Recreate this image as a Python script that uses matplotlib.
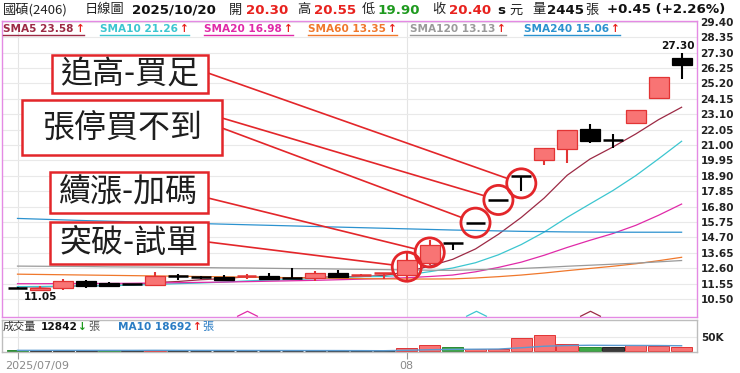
import numpy as np
import matplotlib
matplotlib.use('Agg')
import matplotlib.pyplot as plt
from matplotlib.patches import Rectangle
from matplotlib.path import Path
from matplotlib.lines import Line2D
from matplotlib.transforms import blended_transform_factory

# ---------------- data ----------------
opens  = [11.28, 11.10, 11.24, 11.73, 11.58, 11.50, 11.46, 12.08, 12.03, 12.03,
          12.06, 12.10, 11.92, 11.92, 12.26, 12.12, 12.22, 12.13, 12.98, 14.30,
          15.71, 17.26, 18.91, 19.98, 20.71, 22.08, 21.34, 22.49, 24.19, 26.92]
highs  = [11.34, 11.42, 11.87, 11.80, 11.65, 11.53, 12.33, 12.19, 12.10, 12.14,
          12.22, 12.26, 12.60, 12.44, 12.49, 12.22, 12.30, 13.62, 14.53, 14.30,
          15.71, 17.26, 18.91, 20.78, 22.03, 22.42, 21.75, 23.39, 25.66, 27.30]
lows   = [11.24, 11.05, 11.10, 11.28, 11.30, 11.46, 11.46, 11.80, 11.85, 11.73,
          11.85, 11.85, 11.92, 11.75, 11.99, 12.05, 11.85, 11.80, 12.83, 13.85,
          15.71, 17.26, 17.87, 19.64, 19.76, 21.12, 20.78, 22.49, 24.19, 25.49]
closes = [11.28, 11.28, 11.73, 11.41, 11.40, 11.50, 12.10, 12.08, 12.03, 11.80,
          12.08, 11.87, 11.92, 12.26, 11.99, 12.14, 12.26, 13.16, 14.18, 14.30,
          15.71, 17.26, 18.91, 20.78, 22.03, 21.28, 21.34, 23.39, 25.66, 26.46]

sma5   = [11.35, 11.32, 11.38, 11.40, 11.42, 11.46, 11.63, 11.70, 11.82, 11.90,
          12.02, 11.97, 11.94, 11.99, 12.02, 12.04, 12.11, 12.36, 12.75, 13.21,
          13.92, 14.92, 16.07, 17.39, 18.94, 20.05, 20.87, 21.76, 22.74, 23.58]
sma10  = [11.35, 11.36, 11.38, 11.40, 11.42, 11.45, 11.50, 11.55, 11.60, 11.66,
          11.74, 11.80, 11.82, 11.90, 11.96, 12.03, 12.04, 12.15, 12.37, 12.62,
          12.98, 13.52, 14.22, 15.07, 16.07, 16.99, 17.90, 18.92, 20.07, 21.26]
sma20  = [11.55, 11.55, 11.56, 11.56, 11.57, 11.58, 11.60, 11.62, 11.64, 11.66,
          11.69, 11.72, 11.75, 11.78, 11.82, 11.86, 11.90, 11.96, 12.04, 12.14,
          12.36, 12.66, 13.02, 13.49, 14.02, 14.51, 14.97, 15.53, 16.22, 16.98]
sma60  = [12.20, 12.18, 12.16, 12.14, 12.12, 12.10, 12.08, 12.06, 12.04, 12.02,
          12.00, 11.98, 11.96, 11.94, 11.92, 11.90, 11.88, 11.87, 11.87, 11.88,
          11.94, 12.03, 12.14, 12.28, 12.44, 12.59, 12.74, 12.91, 13.12, 13.35]
sma120 = [12.75, 12.74, 12.73, 12.72, 12.70, 12.69, 12.68, 12.66, 12.65, 12.63,
          12.62, 12.60, 12.58, 12.57, 12.55, 12.53, 12.51, 12.49, 12.47, 12.46,
          12.50, 12.54, 12.59, 12.66, 12.74, 12.81, 12.88, 12.95, 13.04, 13.13]
sma240 = [16.00, 15.95, 15.90, 15.85, 15.81, 15.77, 15.73, 15.69, 15.65, 15.61,
          15.57, 15.53, 15.49, 15.45, 15.41, 15.37, 15.33, 15.29, 15.25, 15.21,
          15.18, 15.15, 15.12, 15.10, 15.08, 15.07, 15.06, 15.06, 15.06, 15.06]

volume   = [2500, 2000, 2200, 2000, 2300, 2000, 5000, 800, 800, 800,
            800, 800, 800, 800, 800, 800, 800, 12000, 22000, 14000,
            6000, 7000, 47000, 58000, 25000, 15000, 13000, 20000, 19000, 12842]
vol_dir  = ['down', 'flat', 'flat', 'flat', 'down', 'flat', 'up', 'flat', 'flat', 'flat',
            'flat', 'flat', 'flat', 'flat', 'flat', 'flat', 'flat', 'up', 'up', 'down',
            'up', 'up', 'up', 'up', 'up', 'down', 'flat', 'up', 'up', 'up']
vol_ma10 = [2300, 2300, 2300, 2250, 2250, 2200, 2400, 2200, 2100, 2000,
            1900, 1800, 1700, 1600, 1500, 1300, 1000, 2500, 4500, 5800,
            6300, 6900, 11500, 17000, 19500, 20500, 20000, 19800, 19500, 18692]

price_ticks = ['10.50', '11.55', '12.60', '13.65', '14.70', '15.75', '16.80', '17.85',
               '18.90', '19.95', '21.00', '22.05', '23.10', '24.15', '25.20', '26.25',
               '27.30', '28.35', '29.40']
date_ticks = [0, 17]
date_labels = ['2025/07/09', '08']

ma_names  = ['SMA5', 'SMA10', 'SMA20', 'SMA60', 'SMA120', 'SMA240']
ma_last   = ['23.58', '21.26', '16.98', '13.35', '13.13', '15.06']
ma_series = [sma5, sma10, sma20, sma60, sma120, sma240]

signals = [(10, 'SMA20'), (20, 'SMA10'), (25, 'SMA5')]

notes = ['追高-買足', '張停買不到', '續漲-加碼', '突破-試單']
note_targets = [[22], [21, 20], [18], [17]]

# ---------------- style ----------------
W, H = 740, 373
CJK = ['Noto Sans CJK TC', 'DejaVu Sans']
RED = '#e8221e'
GREEN = '#1f9a1f'
MA_COLORS = {'SMA5': '#9c2a45', 'SMA10': '#3cc6d0', 'SMA20': '#e02aa8',
             'SMA60': '#f0782c', 'SMA120': '#9a9a9a', 'SMA240': '#2b92cf'}
UP_FILL, UP_EDGE = '#f87474', '#e23434'
ANN = '#e3262a'

plt.rcParams['font.family'] = ['DejaVu Sans']

fig = plt.figure(figsize=(W / 100, H / 100), dpi=100)
fig.patch.set_facecolor('white')


def fx(p):
    return p / W


def fy(p):
    return 1 - p / H


X0, DX = 17.5, 22.9  # pixel layout of the candle slots

n = len(closes)
xs = np.arange(n)

# ---------------- price panel ----------------
ax = fig.add_axes([fx(1.5), fy(317), (697 - 1.5) / W, (317 - 21) / H])
ax.set_xlim((1.5 - X0) / DX, (697 - X0) / DX)
ax.set_ylim(9.28, 29.46)
for s in ax.spines.values():
    s.set_color('#e48ae4')
    s.set_linewidth(1.0)
tick_vals = [float(t) for t in price_ticks]
ax.set_yticks(tick_vals)
ax.set_yticklabels(price_ticks, fontsize=7.6, fontweight='bold', color='#222222')
ax.yaxis.tick_right()
ax.tick_params(axis='y', length=0, pad=2.5)
ax.set_xticks([])
ax.grid(axis='y', color='#e9e9e9', lw=0.8)
ax.set_axisbelow(True)
for d in date_ticks:
    ax.axvline(d, color='#e4e4e4', lw=0.8, zorder=0)

# moving averages
for name, ser in zip(ma_names, ma_series):
    ax.plot(xs, ser, color=MA_COLORS[name], lw=0.9, zorder=2)

# candles
bw = 0.87
for i in range(n):
    o, h, l, c = opens[i], highs[i], lows[i], closes[i]
    up = c > o
    col = UP_EDGE if up else '#000000'
    if h > l:
        ax.vlines(i, l, h, color=col, lw=1.5, zorder=3)
    if abs(c - o) < 0.04:
        ax.hlines(c, i - bw / 2, i + bw / 2, color=col, lw=1.8, zorder=4)
    else:
        if up:
            ax.bar(i, c - o, bottom=o, width=bw, color=UP_FILL, edgecolor=UP_EDGE,
                   linewidth=0.9, zorder=4)
        else:
            ax.bar(i, o - c, bottom=c, width=bw, color='#000000', edgecolor='#000000',
                   linewidth=0.9, zorder=4)

# extreme labels
imax = int(np.argmax(highs))
imin = int(np.argmin(lows))
ax.annotate(f'{highs[imax]:.2f}', (imax, highs[imax]), xytext=(-3, 1),
            textcoords='offset points', ha='center', va='bottom',
            fontsize=7.6, fontweight='bold', color='#111111', zorder=7)
ax.annotate(f'{lows[imin]:.2f}', (imin, lows[imin]), xytext=(0, -1),
            textcoords='offset points', ha='center', va='top',
            fontsize=7.6, fontweight='bold', color='#111111', zorder=7)

# signal chevrons at the bottom of the price panel
chev = Path([(-1, 0), (0, 0.5), (1, 0)], [Path.MOVETO, Path.LINETO, Path.LINETO])
btr = blended_transform_factory(ax.transData, ax.transAxes)
for idx, name in signals:
    ax.plot([idx], [0.004], marker=chev, markersize=15, markeredgewidth=0.9,
            markerfacecolor='none', markeredgecolor=MA_COLORS[name],
            transform=btr, clip_on=False, zorder=5)

# annotation circles
circ_idx = sorted({t for tg in note_targets for t in tg})
circ_y = {i: (highs[i] + lows[i]) / 2 for i in circ_idx}
ax.scatter(circ_idx, [circ_y[i] for i in circ_idx], s=440, facecolors='none',
           edgecolors=ANN, linewidths=2.0, zorder=6)

# annotation boxes (pixel layout) and connectors
boxes = [(52, 55, 208, 93), (22, 100, 222, 155), (50, 172, 208, 213), (50, 222, 208, 264)]
starts = [[(208, 73)], [(222, 118), (222, 128)], [(208, 198)], [(208, 242)]]
for text, (x0, y0, x1, y1), tg, st in zip(notes, boxes, note_targets, starts):
    for ti, (sx, sy) in zip(tg, st):
        ax.annotate('', xy=(ti, circ_y[ti]), xycoords='data',
                    xytext=(sx, H - sy), textcoords='figure pixels',
                    arrowprops=dict(arrowstyle='-', color=ANN, lw=1.2,
                                    shrinkA=0, shrinkB=10.5), zorder=6)
    fig.patches.append(Rectangle((fx(x0), fy(y1)), (x1 - x0) / W, (y1 - y0) / H,
                                 transform=fig.transFigure, facecolor='white',
                                 edgecolor=ANN, linewidth=1.8, zorder=10))
    fig.text(fx((x0 + x1) / 2), fy((y0 + y1) / 2), text, ha='center', va='center',
             fontsize=23, family=CJK, color='#1e1e1e', zorder=11)

# ---------------- volume panel ----------------
axv = fig.add_axes([fx(2), fy(352), (697 - 2) / W, (352 - 319.5) / H])
axv.set_xlim((2 - X0) / DX, (697 - X0) / DX)
axv.set_ylim(-3600, 112500)
for s in axv.spines.values():
    s.set_color('#bdbdbd')
    s.set_linewidth(1.0)
axv.set_yticks([50000])
axv.set_yticklabels(['50K'], fontsize=7.6, fontweight='bold', color='#222222')
axv.yaxis.tick_right()
axv.tick_params(axis='y', length=0, pad=3)
axv.grid(axis='y', color='#e9e9e9', lw=0.8)
axv.set_axisbelow(True)
axv.set_xticks(date_ticks)
axv.set_xticklabels([])
axv.tick_params(axis='x', length=5, color='#999999', direction='out')
for d in date_ticks:
    axv.axvline(d, color='#e4e4e4', lw=0.8, zorder=0)
vcol = {'up': (UP_FILL, UP_EDGE), 'down': ('#3ea847', '#2b8a33'), 'flat': ('#3a3a3a', '#222222')}
for i in range(n):
    fc, ec = vcol[vol_dir[i]]
    axv.bar(i, volume[i], width=0.93, color=fc, edgecolor=ec, linewidth=0.7, zorder=2)
axv.plot(xs, vol_ma10, color='#5a9ad0', lw=1.0, zorder=3)

# date labels
fig.text(fx(5), fy(366), date_labels[0], ha='left', va='center', fontsize=8, color='#8a8a8a')
fig.text(fx(X0 + DX * date_ticks[1]), fy(366), date_labels[1], ha='center', va='center',
         fontsize=8, color='#8a8a8a')

# ---------------- texts ----------------
fig.canvas.draw()
rend = fig.canvas.get_renderer()


def put(x, y, s, **kw):
    t = fig.text(fx(x), fy(y), s, ha='left', va='center', **kw)
    bb = t.get_window_extent(renderer=rend)
    return bb.x1


# header
hy = 10
put(3, hy, '國碩(2406)', fontsize=9.5, family=CJK, color='#222222')
put(85, hy, '日線圖', fontsize=9.5, family=CJK, color='#222222')
put(132, hy, '2025/10/20', fontsize=9.6, fontweight='bold', color='#111111')
put(229, hy, '開', fontsize=9.5, family=CJK, color='#222222')
put(246, hy, '20.30', fontsize=9.6, fontweight='bold', color=RED)
put(297, hy, '高', fontsize=9.5, family=CJK, color='#222222')
put(314, hy, '20.55', fontsize=9.6, fontweight='bold', color=RED)
put(362, hy, '低', fontsize=9.5, family=CJK, color='#222222')
put(377, hy, '19.90', fontsize=9.6, fontweight='bold', color=GREEN)
put(432, hy, '收', fontsize=9.5, family=CJK, color='#222222')
put(449, hy, '20.40', fontsize=9.6, fontweight='bold', color=RED)
put(497, hy, 's', fontsize=9.6, fontweight='bold', color='#111111')
put(509, hy, '元', fontsize=9.5, family=CJK, color='#222222')
put(532, hy, '量', fontsize=9.5, family=CJK, color='#222222')
put(547, hy, '2445', fontsize=9.6, fontweight='bold', color='#111111')
put(585, hy, '張', fontsize=9.5, family=CJK, color='#222222')
put(607, hy, '+0.45 (+2.26%)', fontsize=9.6, fontweight='bold', color='#111111')

# MA legend
ly = 28.5
leg_x = [3, 100, 204, 308, 410, 524]
for x0, name, val in zip(leg_x, ma_names, ma_last):
    col = MA_COLORS[name]
    x1 = put(x0, ly, f'{name} {val}', fontsize=7.6, fontweight='bold', color=col)
    x2 = put(x1 + 2, ly, '↑', fontsize=7.6, fontweight='bold', color=RED)
    fig.add_artist(Line2D([fx(x0), fx(x2)], [fy(35), fy(35)], color=col, lw=1.0,
                          transform=fig.transFigure))

# volume legend
vy = 326.5
x1 = put(3, vy, '成交量', fontsize=8, family=CJK, color='#333333')
x1 = put(x1 + 4, vy, f'{volume[-1]}', fontsize=7.6, fontweight='bold', color='#111111')
x1 = put(x1 + 1, vy, '↓', fontsize=7.6, fontweight='bold', color=GREEN)
put(x1 + 1, vy, '張', fontsize=8, family=CJK, color='#555555')
x1 = put(118, vy, f'MA10 {vol_ma10[-1]}', fontsize=7.6, fontweight='bold', color='#2a7cc4')
x1 = put(x1 + 1, vy, '↑', fontsize=7.6, fontweight='bold', color=RED)
put(x1 + 1, vy, '張', fontsize=8, family=CJK, color='#2a7cc4')

fig.savefig('out.png', dpi=100)
